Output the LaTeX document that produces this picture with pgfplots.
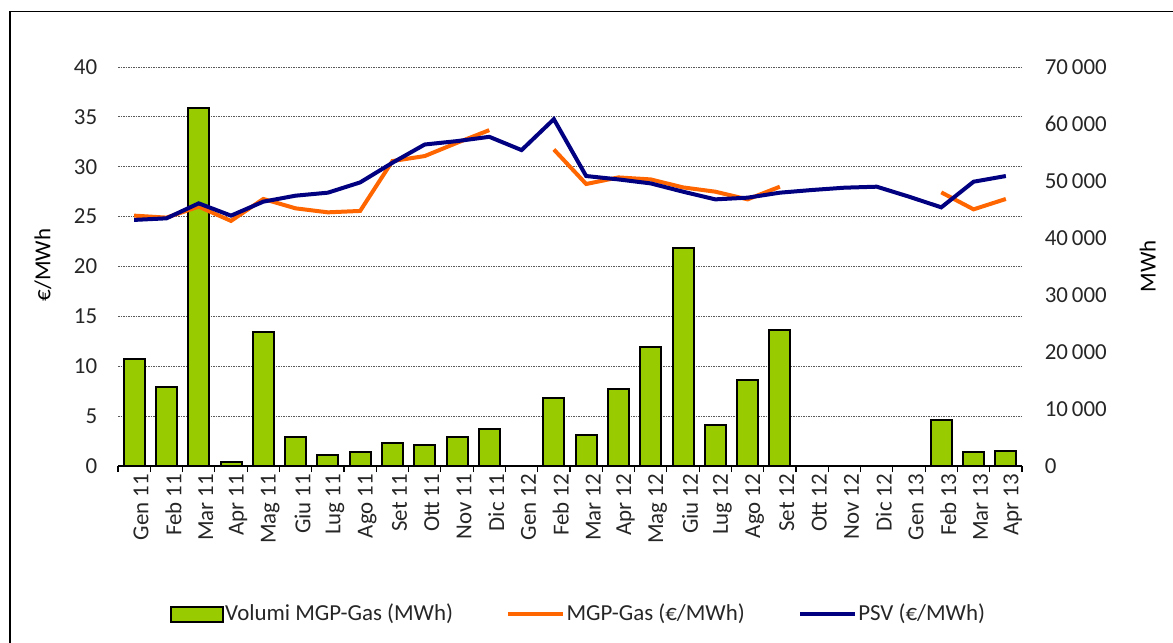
\documentclass[border=0pt]{standalone}
\usepackage{fontspec}
\setmainfont{Carlito}
\usepackage{pgfplots}
\pgfplotsset{compat=1.18}
\usepackage{pgfplotstable}
\definecolor{barg}{RGB}{153,204,0}
\definecolor{mgpc}{RGB}{255,102,0}
\definecolor{psvc}{RGB}{0,0,128}
\definecolor{txt}{RGB}{38,38,38}

\pgfplotstableread{
i vol mgp psv
0 18850 25.10 24.67
1 13780 24.90 24.83
2 62800 26.00 26.33
3 700 24.57 25.10
4 23570 26.77 26.50
5 5020 25.83 27.10
6 1870 25.43 27.40
7 2500 25.57 28.43
8 4080 30.57 30.40
9 3620 31.07 32.23
10 5020 32.40 32.57
11 6530 33.67 33.00
12 nan nan 31.67
13 11950 31.73 34.77
14 5430 28.27 29.07
15 13530 28.93 28.73
16 20880 28.73 28.33
17 38220 27.93 27.50
18 7230 27.50 26.73
19 15050 26.73 26.90
20 23800 28.00 27.40
21 nan nan 27.67
22 nan nan 27.90
23 nan nan 28.00
24 nan nan 27.00
25 8100 27.43 25.93
26 2500 25.73 28.50
27 2680 26.77 29.07
}\data

\pgfplotsset{
  base/.style={
    at={(118bp,177bp)}, anchor=south west, scale only axis,
    width=904bp, height=399bp,
    xmin=-0.5, xmax=27.5,
    /pgf/number format/assume math mode=true,
    ticklabel style={font=\fontsize{23}{28}\selectfont, text=txt},
    label style={font=\fontsize{23}{28}\selectfont, text=black},
  }
}

\begin{document}
\fontsize{23}{28}\selectfont
\begin{tikzpicture}
\useasboundingbox (0bp,0bp) rectangle (1173bp,643bp);
\draw[line width=1.2bp, black] (10bp,0bp) -- (10bp,631.3bp) -- (1173bp,631.3bp);

% left axis with grid and x axis
\begin{axis}[base,
  ymin=0, ymax=40, ytick={0,5,...,40},
  axis x line*=bottom, axis y line*=left,
  y axis line style={draw=none},
  x axis line style={line width=1.2bp, black, -},
  ytick style={draw=none},
  ymajorgrids,
  grid style={gray!70!black, line width=0.8bp, dash pattern=on 1.5bp off 1bp},
  yticklabel style={xshift=-13bp},
  xtick={0,...,27},
  xticklabels={Gen 11,Feb 11,Mar 11,Apr 11,Mag 11,Giu 11,Lug 11,Ago 11,Set 11,Ott 11,Nov 11,Dic 11,Gen 12,Feb 12,Mar 12,Apr 12,Mag 12,Giu 12,Lug 12,Ago 12,Set 12,Ott 12,Nov 12,Dic 12,Gen 13,Feb 13,Mar 13,Apr 13},
  xticklabel style={rotate=90, anchor=east, yshift=-7bp},
  major tick length=0pt,
  minor xtick={-0.5,0.5,...,27.5},
  minor tick length=6bp,
  tick align=outside,
  xtick style={black, line width=1.2bp},
  every axis y label/.style={at={(axis description cs:-0.083,0.504)}, rotate=90, anchor=center},
  ylabel={€/MWh},
]
\addplot[draw=none] coordinates {(0,0)};
\end{axis}

% right axis with bars
\begin{axis}[base,
  ymin=0, ymax=70000, ytick={0,10000,...,70000},
  axis x line=none, axis y line*=right,
  y axis line style={draw=none},
  ytick style={draw=none},
  major tick length=0pt,
  scaled y ticks=false,
  yticklabel style={xshift=15bp, /pgf/number format/.cd, fixed, 1000 sep={\,}},
  every axis y label/.style={at={(axis description cs:1.139,0.5)}, rotate=90, anchor=center},
  ylabel={MWh},
]
\addplot[ybar, bar width=21bp, fill=barg, draw=black, line width=2bp] table[x=i,y=vol]{\data};
\end{axis}

% lines on left scale
\begin{axis}[base,
  ymin=0, ymax=40, hide axis,
  unbounded coords=jump,
  legend style={at={(axis description cs:0.509,-0.371)}, anchor=center, draw=none, fill=none,
    font=\fontsize{23}{28}\selectfont, text=txt,
    /tikz/every even column/.append style={column sep=52bp},
    nodes={inner xsep=1bp}},
  legend columns=3,
  legend image code/.code={\draw[#1, line width=4.5bp] (0bp,0bp) -- (55bp,0bp);},
]
\addlegendimage{legend image code/.code={\draw[fill=barg, draw=black, line width=2bp] (0bp,-7.5bp) rectangle (52bp,7.5bp);}}
\addlegendentry{Volumi MGP-Gas (MWh)}
\addplot[mgpc, line width=4bp] table[x=i,y=mgp]{\data};
\addlegendentry{MGP-Gas (€/MWh)}
\addplot[psvc, line width=4bp] table[x=i,y=psv]{\data};
\addlegendentry{PSV (€/MWh)}
\end{axis}
\end{tikzpicture}
\end{document}
